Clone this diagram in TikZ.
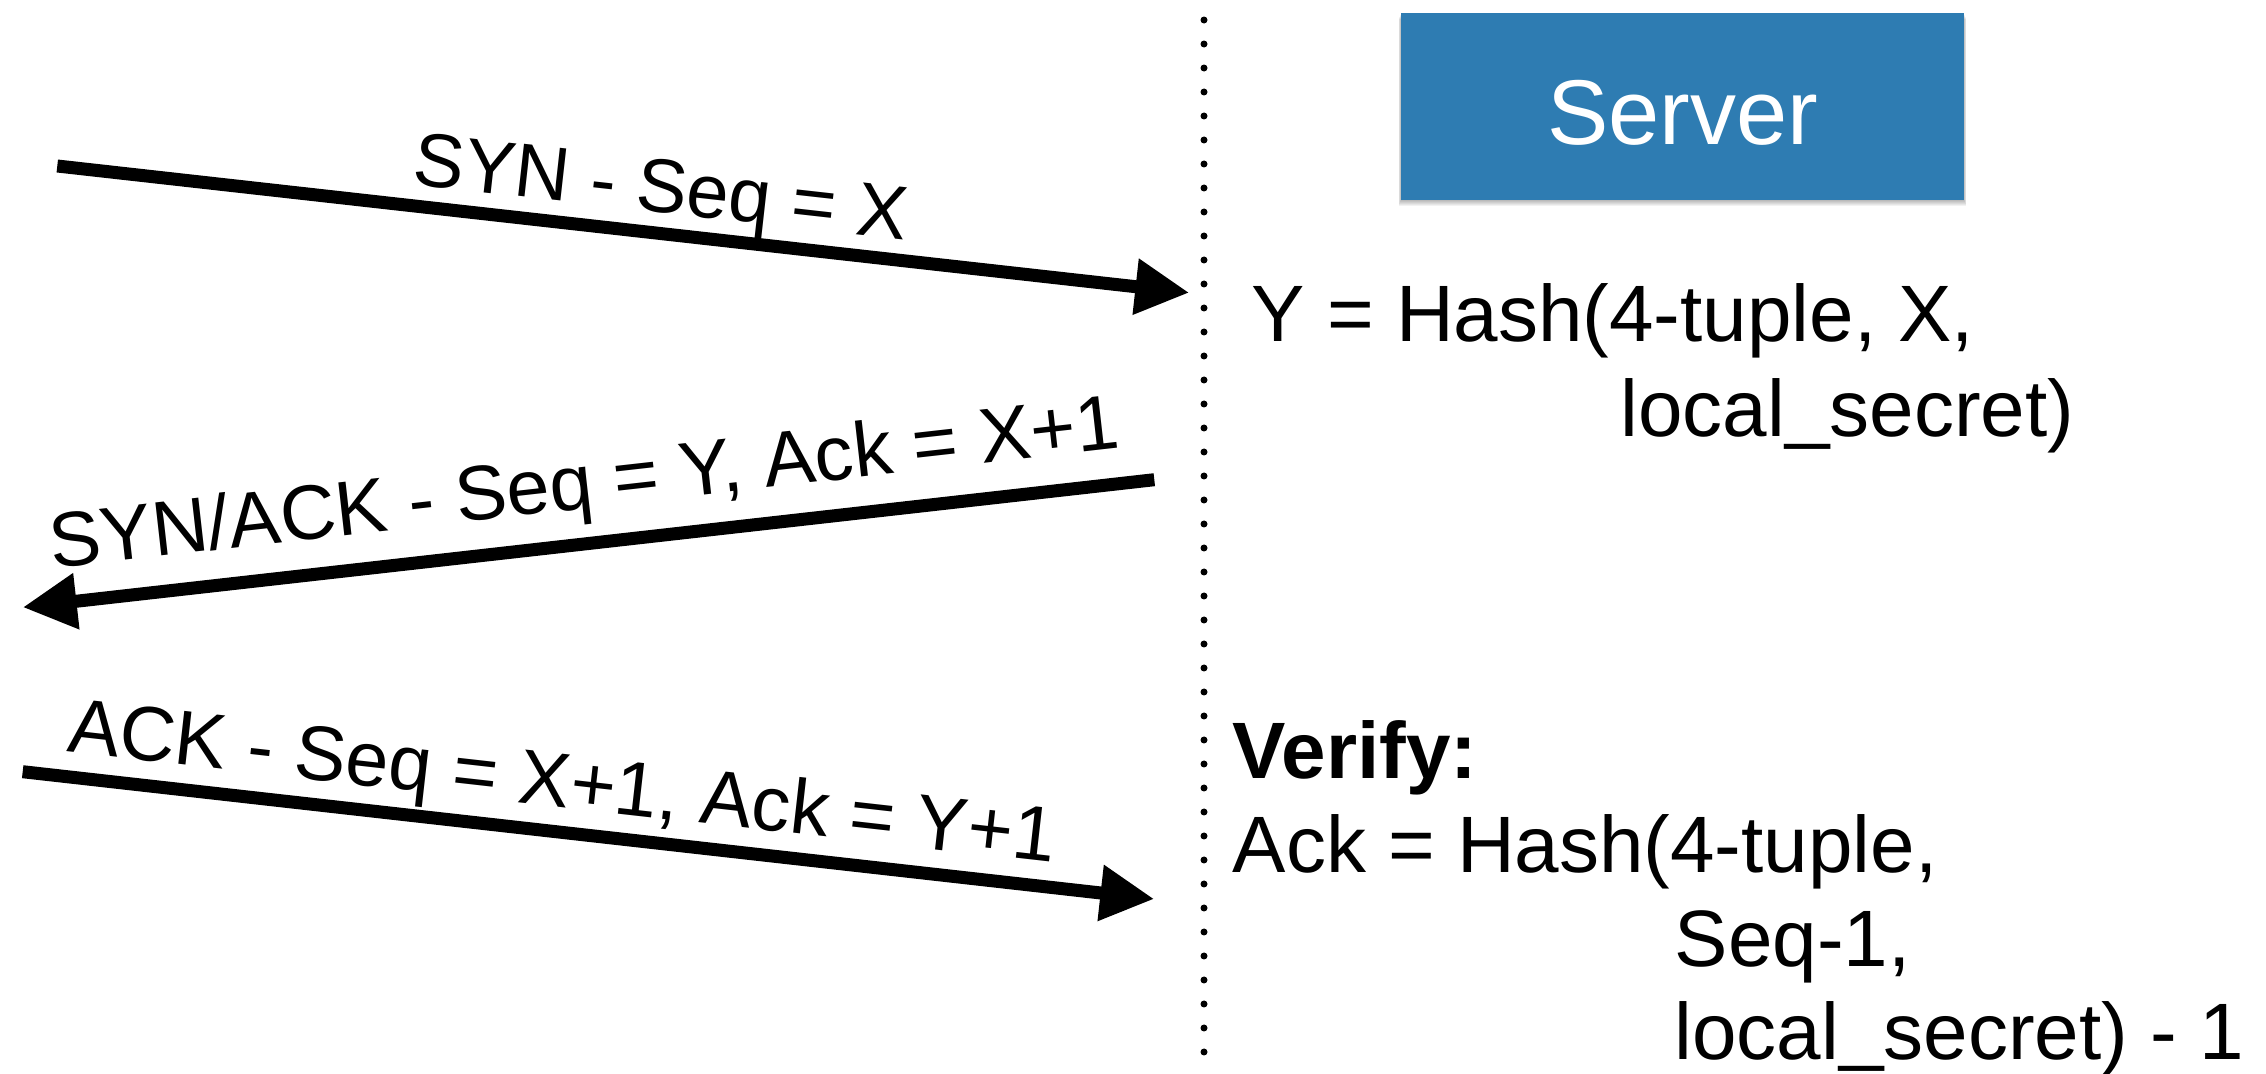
\documentclass[tikz,border=0pt]{standalone}
\usepackage{fontspec}
\setmainfont{Liberation Sans}
\usetikzlibrary{arrows.meta}
\definecolor{serverblue}{RGB}{46,124,178}
% underscore sitting a little closer to the baseline
\newcommand{\lowbar}{\raisebox{0.045em}{\_}}
\begin{document}
\begin{tikzpicture}[x=0.3pt, y=-0.3pt,
  msg/.style={line width=3.9pt, -{Triangle[length=16.2pt,width=15.9pt]}},
  lbl/.style={sloped, anchor=base, inner sep=0pt, font=\fontsize{22.8pt}{27pt}\selectfont},
  widelbl/.style={lbl, font=\fontsize{23.2pt}{27pt}\selectfont},
  note/.style={anchor=base west, inner sep=0pt, font=\fontsize{24pt}{28pt}\selectfont},
  boldnote/.style={note, font=\fontsize{24pt}{28pt}\selectfont\bfseries},
  lifeline/.style={line width=2.1pt, line cap=round, dash pattern=on 0pt off 7.2pt},
  serverbox/.style={fill=serverblue, minimum width=168.9pt, minimum height=56.1pt, inner sep=0pt},
  servertext/.style={anchor=base, text=white, inner sep=0pt, font=\fontsize{27.6pt}{32pt}\selectfont}
]
\useasboundingbox (0,0) rectangle (2266,1074);

% soft shadow under the server box
\foreach \d in {1,...,6}
  \fill[black, opacity=0.05] (1401-0.4*\d,13+\d) rectangle (1964+0.4*\d,200+\d);

% server box and its title
\node[serverbox] (server) at (1682.5,106.5) {};
\node[servertext] (servername) at (1682.5,144) {Server};

% server lifeline (dotted)
\coordinate (lifetop) at (1204,20);
\coordinate (lifebot) at (1204,1074);
\draw[lifeline] (lifetop) -- (lifebot);

% end points of the three handshake messages
\coordinate (synA) at (57.3,166);
\coordinate (synB) at (1189.3,292.7);
\coordinate (synackA) at (1154.3,479.7);
\coordinate (synackB) at (22.7,607.3);
\coordinate (ackA) at (22.7,771.7);
\coordinate (ackB) at (1154.3,899);

\draw[msg] (synA) -- node[lbl, pos=0.529, yshift=6.3pt] (synlabel) {SYN - Seq = X} (synB);
\draw[msg] (synackA) -- node[widelbl, pos=0.498, yshift=10.6pt] (synacklabel) {SYN/ACK - Seq = Y, Ack = X+1} (synackB);
\draw[msg] (ackA) -- node[widelbl, pos=0.472, yshift=7.4pt] (acklabel) {ACK - Seq = X+1, Ack = Y+1} (ackB);

% server-side computations
\node[note] (hashline) at (1251,341.7) {Y = Hash(4-tuple, X,};
\node[note] (hashsecret) at (1620,436.7) {local\lowbar secret)};

\node[boldnote] (verify) at (1232,778) {Verify:};
\node[note] (checkline) at (1232,872) {Ack = Hash(4-tuple,};
\node[note] (checkseq) at (1674,966) {Seq-1,};
\node[note] (checksecret) at (1674,1059) {local\lowbar secret) - 1};
\end{tikzpicture}
\end{document}
